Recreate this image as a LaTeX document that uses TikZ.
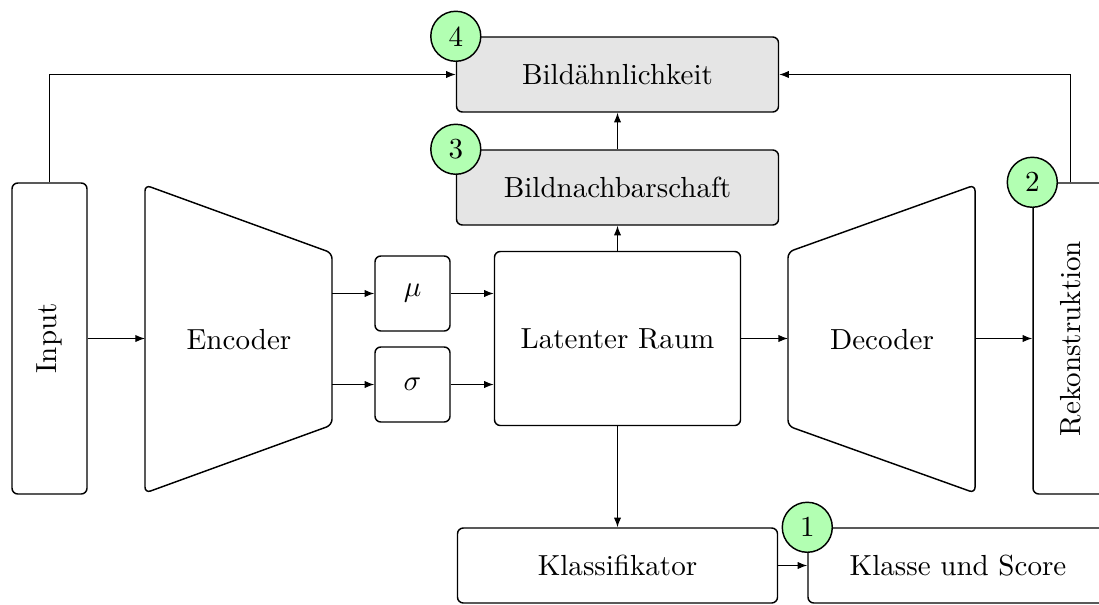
\documentclass[tikz,border=0pt]{standalone}
\usepackage{amsmath}
\usetikzlibrary{arrows.meta,calc,positioning}

\def\pxu{0.0121cm}

\begin{document}
\begin{tikzpicture}[x=\pxu,y=-\pxu,
box/.style={draw,rounded corners=2pt,line width=0.5pt,align=center,inner sep=0pt},
grey/.style={box,fill=black!10},
num/.style={circle,draw,line width=0.5pt,fill=green!30,minimum size=50*\pxu,inner sep=0pt},
>={Latex[length=3.3pt,width=2.5pt]}]
\useasboundingbox (0,0) rectangle (1099,604);
\clip (0,0) rectangle (1099,604);
% boxes
\node[box,minimum width=75*\pxu,minimum height=311*\pxu] (in) at (49.5,338.5) {\rotatebox{90}{Input}};
\node[box,minimum width=75*\pxu,minimum height=75*\pxu] (mu) at (412.5,293.5) {$\mu$};
\node[box,minimum width=75*\pxu,minimum height=75*\pxu] (sig) at (412.5,384.5) {$\sigma$};
\node[box,minimum width=246*\pxu,minimum height=174*\pxu] (lat) at (617.5,338.5) {Latenter Raum};
\node[grey,minimum width=322*\pxu,minimum height=75*\pxu] (sim) at (617.5,74.5) {Bildähnlichkeit};
\node[grey,minimum width=322*\pxu,minimum height=75*\pxu] (nb) at (617.5,187.5) {Bildnachbarschaft};
\node[box,minimum width=320*\pxu,minimum height=75*\pxu] (cls) at (617.5,565.5) {Klassifikator};
\node[box,minimum width=300*\pxu,minimum height=75*\pxu] (out) at (958,565.5) {Klasse und Score};
\node[box,minimum width=75*\pxu,minimum height=311*\pxu] (rek) at (1070.5,338.5) {\rotatebox{90}{Rekonstruktion}};
% encoder / decoder
\draw[rounded corners=2pt,line width=0.5pt] (145,185) -- (332,253) -- (332,425) -- (145,493) -- cycle;
\draw[rounded corners=2pt,line width=0.5pt] (788,252) -- (975,185) -- (975,493) -- (788,426) -- cycle;
\node (enc) at (239,340) {Encoder};
\node (dec) at (882,340) {Decoder};
\coordinate (encin) at (145,338.5);
\coordinate (encmu) at (332,293.5);
\coordinate (encsig) at (332,384.5);
\coordinate (decin) at (788,338.5);
\coordinate (decout) at (975,338.5);
% numbers
\node[num] (n4) at (sim.north west) {4};
\node[num] (n3) at (nb.north west) {3};
\node[num] (n2) at (rek.north west) {2};
\node[num] (n1) at (out.north west) {1};
% arrows
\draw[->] (in.east) -- (encin);
\draw[->] (encmu) -- (mu);
\draw[->] (encsig) -- (sig);
\draw[->] (mu.east) -- (mu.east -| lat.west);
\draw[->] (sig.east) -- (sig.east -| lat.west);
\draw[->] (lat.east) -- (decin);
\draw[->] (decout) -- (decout -| rek.west);
\draw[->] (lat.north) -- (nb.south);
\draw[->] (nb.north) -- (sim.south);
\draw[->] (in.north) |- (sim.west);
\draw[->] (rek.north) |- (sim.east);
\draw[->] (lat.south) -- (cls.north);
\draw[->] (cls.east) -- (out.west);
\end{tikzpicture}
\end{document}
